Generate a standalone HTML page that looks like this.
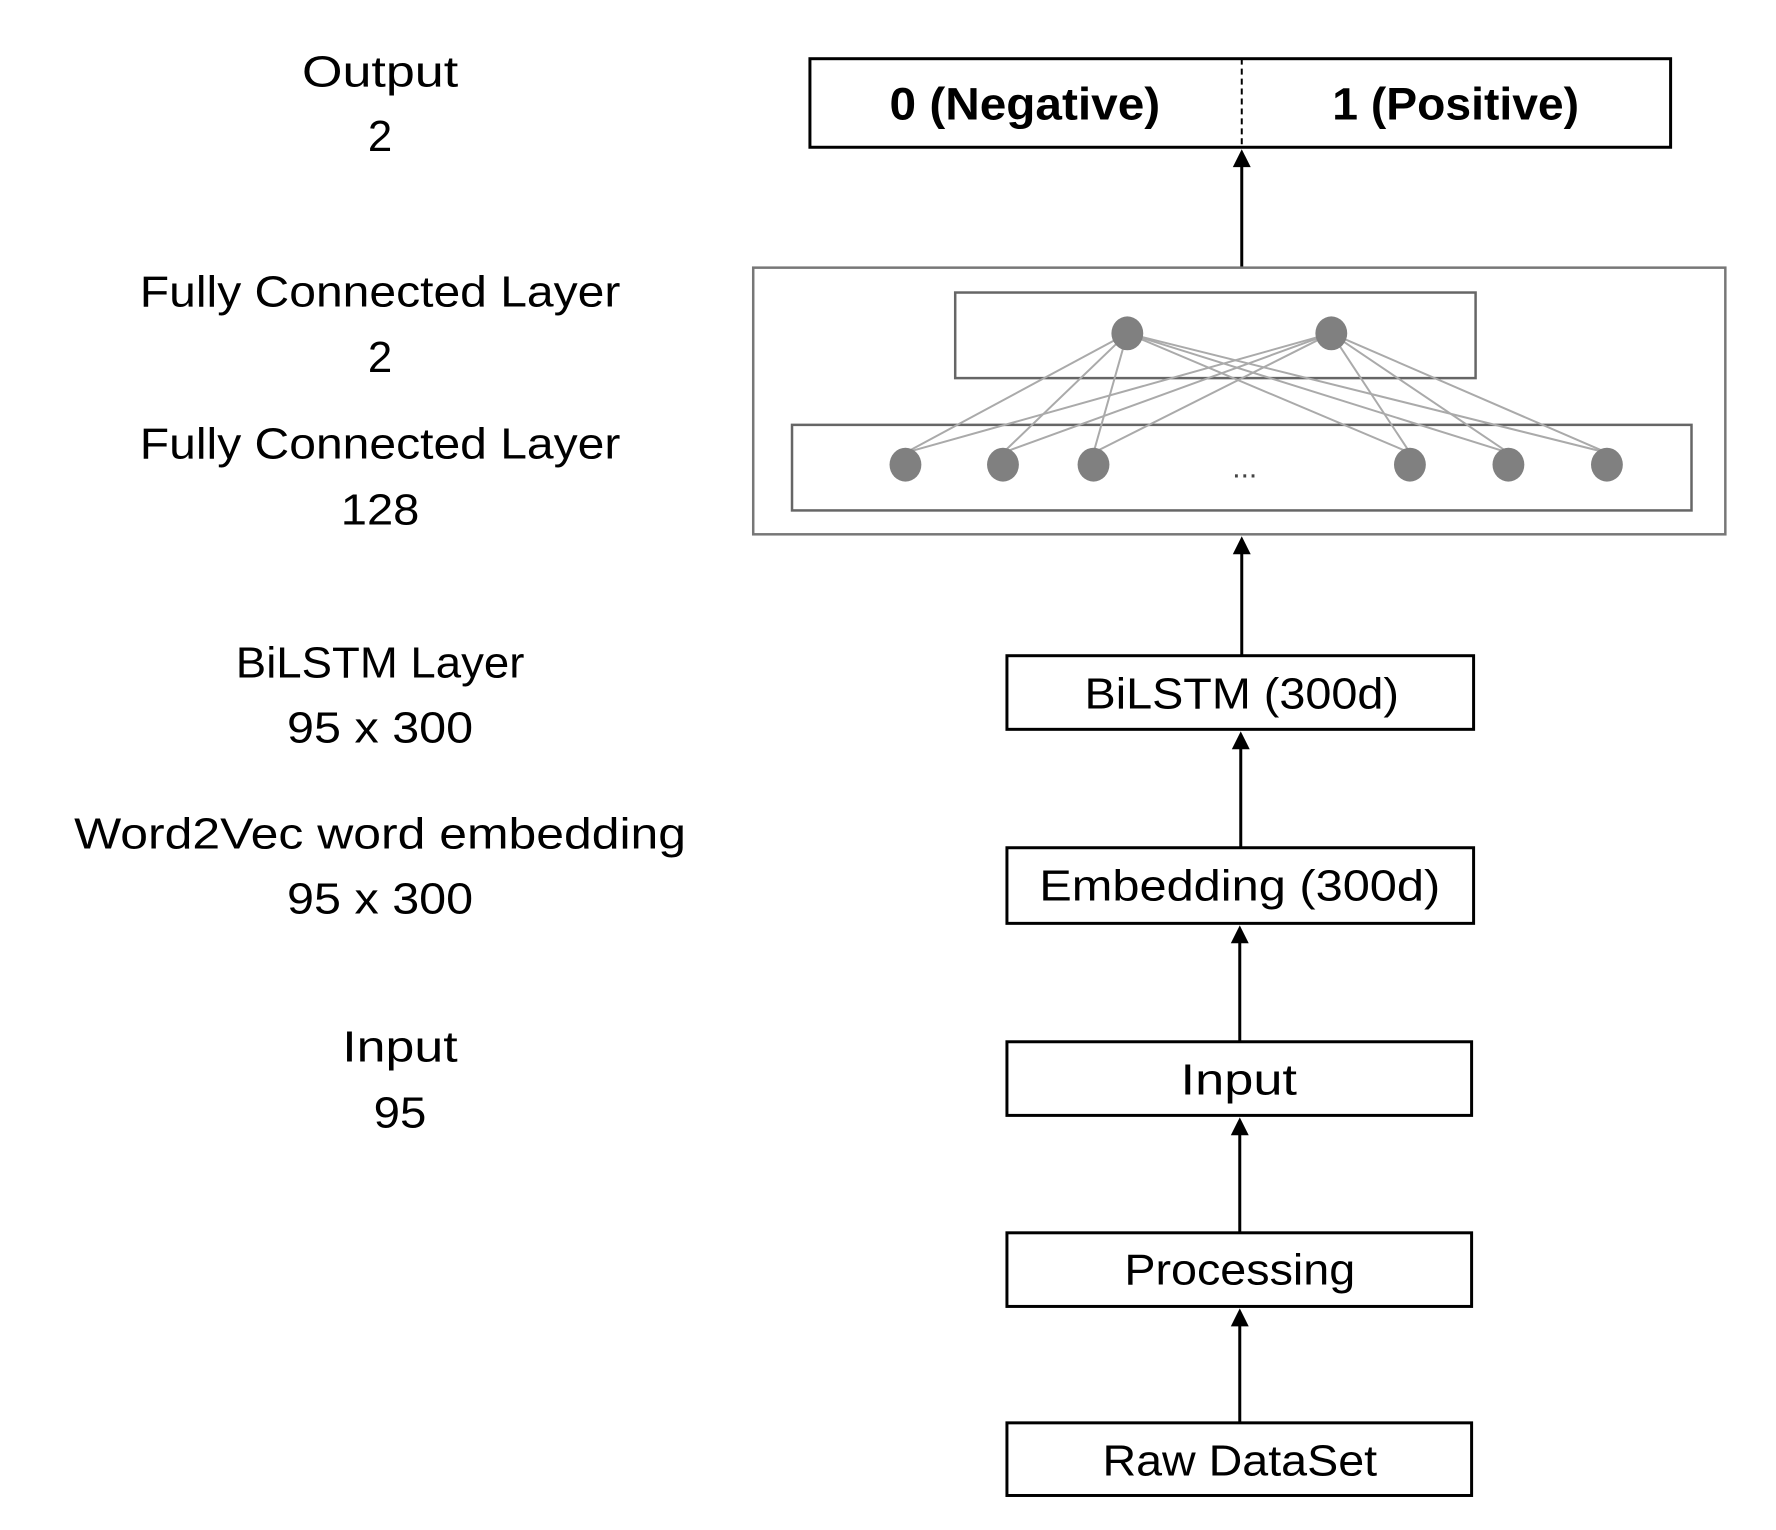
<!DOCTYPE html>
<html><head><meta charset="utf-8"><style>html,body{margin:0;padding:0;background:#fff}svg{display:block}</style></head>
<body>
<svg width="1776" height="1530" viewBox="0 0 1776 1530" xmlns="http://www.w3.org/2000/svg" font-family="Liberation Sans, sans-serif">
<g transform="scale(0.995)">
<g font-size="44" text-anchor="middle" fill="#000">
<text x="382" y="87" textLength="157" lengthAdjust="spacingAndGlyphs">Output</text>
<text x="382" y="152">2</text>
<text x="382" y="308" textLength="483" lengthAdjust="spacingAndGlyphs">Fully Connected Layer</text>
<text x="382" y="374">2</text>
<text x="382" y="461" textLength="483" lengthAdjust="spacingAndGlyphs">Fully Connected Layer</text>
<text x="382" y="527" textLength="79" lengthAdjust="spacingAndGlyphs">128</text>
<text x="382" y="681" textLength="290" lengthAdjust="spacingAndGlyphs">BiLSTM Layer</text>
<text x="382" y="746" textLength="187" lengthAdjust="spacingAndGlyphs">95 x 300</text>
<text x="382" y="853" textLength="615" lengthAdjust="spacingAndGlyphs">Word2Vec word embedding</text>
<text x="382" y="918" textLength="187" lengthAdjust="spacingAndGlyphs">95 x 300</text>
<text x="402" y="1067" textLength="116" lengthAdjust="spacingAndGlyphs">Input</text>
<text x="402" y="1133" textLength="53" lengthAdjust="spacingAndGlyphs">95</text>
</g>
<rect x="814" y="59" width="865" height="89" fill="none" stroke="#000" stroke-width="3"/>
<line x1="1248" y1="59" x2="1248" y2="148" stroke="#000" stroke-width="2" stroke-dasharray="6,4"/>
<g font-size="46" font-weight="bold" text-anchor="middle">
<text x="1030" y="120" textLength="272" lengthAdjust="spacingAndGlyphs">0 (Negative)</text>
<text x="1463" y="120" textLength="248" lengthAdjust="spacingAndGlyphs">1 (Positive)</text>
</g>
<g stroke="#000" stroke-width="3">
<line x1="1248" y1="269" x2="1248" y2="160"/>
<line x1="1248" y1="659" x2="1248" y2="550"/>
<line x1="1247" y1="852" x2="1247" y2="745"/>
<line x1="1246" y1="1047" x2="1246" y2="940"/>
<line x1="1246" y1="1239" x2="1246" y2="1133"/>
<line x1="1246" y1="1430" x2="1246" y2="1325"/>
</g>
<g fill="#000">
<polygon points="1248,150 1239,168 1257,168"/>
<polygon points="1248,539 1239,557 1257,557"/>
<polygon points="1247,735 1238,753 1256,753"/>
<polygon points="1246,1123 1237,1141 1255,1141"/>
<polygon points="1246,1315 1237,1333 1255,1333"/>
<polygon points="1246,930 1237,948 1255,948"/>
</g>
<rect x="757" y="269" width="977" height="268" fill="none" stroke="#777" stroke-width="2.5"/>
<rect x="960" y="294" width="523" height="86" fill="none" stroke="#666" stroke-width="2.5"/>
<rect x="796" y="427" width="904" height="86" fill="none" stroke="#666" stroke-width="2.5"/>
<g stroke="#aaa" stroke-width="2">
<line x1="1133" y1="335" x2="910" y2="455"/><line x1="1133" y1="335" x2="1008" y2="455"/><line x1="1133" y1="335" x2="1099" y2="455"/><line x1="1133" y1="335" x2="1417" y2="455"/><line x1="1133" y1="335" x2="1516" y2="455"/><line x1="1133" y1="335" x2="1615" y2="455"/>
<line x1="1338" y1="335" x2="910" y2="455"/><line x1="1338" y1="335" x2="1008" y2="455"/><line x1="1338" y1="335" x2="1099" y2="455"/><line x1="1338" y1="335" x2="1417" y2="455"/><line x1="1338" y1="335" x2="1516" y2="455"/><line x1="1338" y1="335" x2="1615" y2="455"/>
</g>
<g fill="#808080">
<ellipse cx="1133" cy="335" rx="16" ry="17"/><ellipse cx="1338" cy="335" rx="16" ry="17"/>
<ellipse cx="910" cy="467" rx="16" ry="17"/><ellipse cx="1008" cy="467" rx="16" ry="17"/><ellipse cx="1099" cy="467" rx="16" ry="17"/>
<ellipse cx="1417" cy="467" rx="16" ry="17"/><ellipse cx="1516" cy="467" rx="16" ry="17"/><ellipse cx="1615" cy="467" rx="16" ry="17"/>
</g>
<text x="1251" y="480" font-size="30" text-anchor="middle" fill="#444">...</text>
<g fill="none" stroke="#000" stroke-width="3">
<rect x="1012" y="659" width="469" height="74"/>
<rect x="1012" y="852" width="469" height="76"/>
<rect x="1012" y="1047" width="467" height="74"/>
<rect x="1012" y="1239" width="467" height="74"/>
<rect x="1012" y="1430" width="467" height="73"/>
</g>
<g font-size="44" text-anchor="middle">
<text x="1248" y="712" textLength="316" lengthAdjust="spacingAndGlyphs">BiLSTM (300d)</text>
<text x="1246" y="905" textLength="403" lengthAdjust="spacingAndGlyphs">Embedding (300d)</text>
<text x="1245" y="1100" textLength="117" lengthAdjust="spacingAndGlyphs">Input</text>
<text x="1246" y="1291" textLength="232" lengthAdjust="spacingAndGlyphs">Processing</text>
<text x="1246" y="1483" textLength="276" lengthAdjust="spacingAndGlyphs">Raw DataSet</text>
</g>
</g>
</svg>
</body></html>
